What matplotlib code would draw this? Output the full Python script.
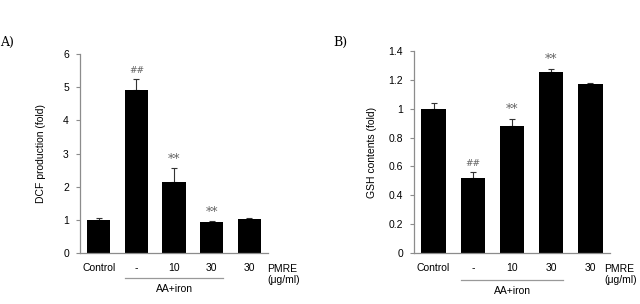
import matplotlib
matplotlib.use('Agg')
import matplotlib.pyplot as plt
import matplotlib.transforms as mtransforms

labels = ['Control', '-', '10', '30', '30']
dcf = [1.0, 4.9, 2.15, 0.93, 1.03]
dcf_err = [0.05, 0.35, 0.4, 0.02, 0.03]
dcf_marks = ['', '##', '**', '**', '']
gsh = [1.0, 0.52, 0.88, 1.255, 1.17]
gsh_err = [0.04, 0.04, 0.05, 0.02, 0.01]
gsh_marks = ['', '##', '**', '**', '']

plt.rcParams['font.family'] = ['Liberation Sans', 'DejaVu Sans']
fig = plt.figure(figsize=(6.4, 3.04), dpi=100)

spine_col = '#8c8c8c'


def panel(rect, vals, errs, marks, ymax, yticks, ytlabels, ylabel, letter, letter_x, line_y, pmre_x, labelpad):
    ax = fig.add_axes(rect)
    x = range(len(vals))
    ax.bar(x, vals, width=0.62, color='black', zorder=2)
    ax.errorbar(x, vals, yerr=[[0] * len(vals), errs], fmt='none', ecolor='#333333',
                elinewidth=0.8, capsize=2, capthick=0.8, zorder=1)
    for i in range(len(vals)):
        if marks[i] == '##':
            ax.annotate(marks[i], (i, vals[i] + errs[i]), xytext=(0, 3), textcoords='offset points',
                        ha='center', va='bottom', fontsize=6.5, color='#666666', family='DejaVu Serif')
        elif marks[i]:
            ax.annotate(marks[i], (i, vals[i] + errs[i]), xytext=(0, 2), textcoords='offset points',
                        ha='center', va='bottom', fontsize=9, color='#666666', family='DejaVu Serif')
    ax.set_xlim(-0.5, 4.5)
    ax.set_ylim(0, ymax)
    ax.set_yticks(yticks)
    ax.set_yticklabels(ytlabels, fontsize=7.5)
    ax.set_xticks(list(x))
    ax.set_xticklabels(labels, fontsize=7.5)
    ax.tick_params(axis='x', length=0, pad=7)
    ax.tick_params(axis='y', length=3, width=0.8, color=spine_col, pad=5)
    for s in ['top', 'right']:
        ax.spines[s].set_visible(False)
    for s in ['left', 'bottom']:
        ax.spines[s].set_color(spine_col)
        ax.spines[s].set_linewidth(0.9)
    ax.set_ylabel(ylabel, fontsize=7.5, labelpad=labelpad)
    tr = mtransforms.blended_transform_factory(ax.transData, ax.transAxes)
    ax.plot([0.69, 3.31], [line_y, line_y], transform=tr, color='#999999', lw=0.9, clip_on=False)
    ax.text(2.0, line_y - 0.03, 'AA+iron', transform=tr, ha='center', va='top', fontsize=7.5)
    ax.text(pmre_x, -0.078, 'PMRE', transform=ax.transAxes, ha='left', va='center', fontsize=7.5)
    ax.text(pmre_x, -0.135, '(\u03bcg/ml)', transform=ax.transAxes, ha='left', va='center', fontsize=7.5)
    fig.text(letter_x, 1 - 42 / 304, letter, ha='left', va='center', fontsize=9, family='DejaVu Serif')
    return ax


panel([80 / 640, 51 / 304, 188 / 640, 199 / 304], dcf, dcf_err, dcf_marks, 6,
      [0, 1, 2, 3, 4, 5, 6], ['0', '1', '2', '3', '4', '5', '6'],
      'DCF production (fold)', 'A)', 0 / 640, -0.126, 0.995, 12)
panel([414 / 640, 51 / 304, 196 / 640, 202 / 304], gsh, gsh_err, gsh_marks, 1.4,
      [0, 0.2, 0.4, 0.6, 0.8, 1.0, 1.2, 1.4], ['0', '0.2', '0.4', '0.6', '0.8', '1', '1.2', '1.4'],
      'GSH contents (fold)', 'B)', 333 / 640, -0.134, 0.97, 8)

plt.savefig('out.png', dpi=100)
